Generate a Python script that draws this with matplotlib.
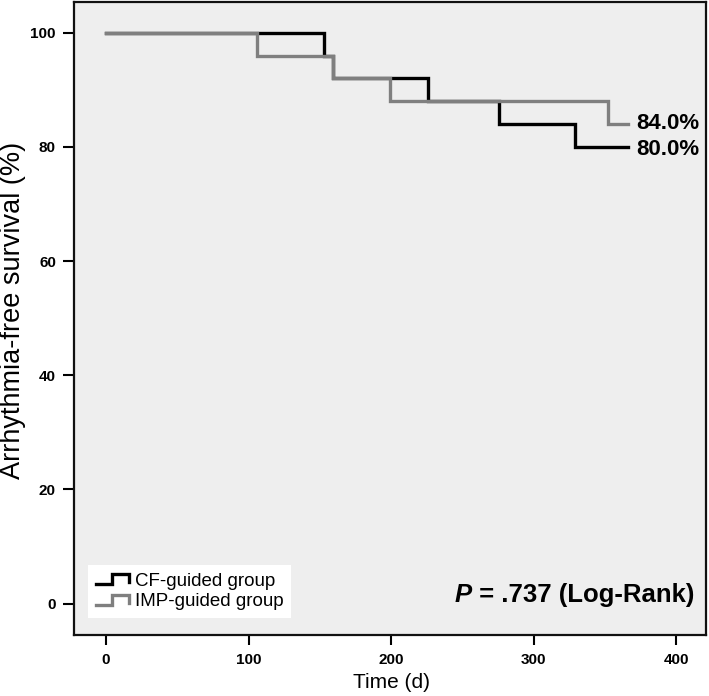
import numpy as np
import matplotlib
matplotlib.use("Agg")
import matplotlib.pyplot as plt
from matplotlib.legend_handler import HandlerBase
from matplotlib.lines import Line2D

# ---- data ----
cf_times = [0, 153, 159, 226, 276, 329, 366]
cf_surv = [100, 96, 92, 88, 84, 80, 80]
imp_times = [0, 106, 159, 199, 352, 366]
imp_surv = [100, 96, 92, 88, 84, 84]
group_labels = ["CF-guided group", "IMP-guided group"]
end_labels = ["80.0%", "84.0%"]
x_ticks = [0, 100, 200, 300, 400]
y_ticks = [0, 20, 40, 60, 80, 100]
p_text = " = .737 (Log-Rank)"

plt.rcParams['font.family'] = ['Liberation Sans', 'DejaVu Sans']

W, H = 709, 696
fig = plt.figure(figsize=(W / 100, H / 100), dpi=100)
fig.patch.set_facecolor('white')
ax = fig.add_axes([74 / W, 1 - 635 / H, (706 - 74) / W, (635 - 2) / H])
ax.set_facecolor('#eeeeee')

black = '#000000'
gray = '#7f7f7f'
lw = 2.4

l_cf, = ax.step(cf_times, cf_surv, where='post', color=black, lw=lw,
                solid_joinstyle='miter', zorder=3)
l_imp, = ax.step(imp_times, imp_surv, where='post', color=gray, lw=lw,
                 solid_joinstyle='miter', zorder=4)

ax.set_xlim(-22.5, 421)
ax.set_ylim(-5.5, 105.4)
ax.set_xticks(x_ticks)
ax.set_yticks(y_ticks)
ax.set_xticklabels([str(v) for v in x_ticks], fontweight='bold', fontsize=11)
ax.set_yticklabels([str(v) for v in y_ticks], fontweight='bold', fontsize=11)
ax.tick_params(axis='y', direction='out', length=8, width=1.5, pad=5)
ax.tick_params(axis='x', direction='out', length=7, width=1.5, pad=6)

for s in ax.spines.values():
    s.set_linewidth(1.6)
    s.set_color('#111111')

# end labels
ax.text(372, 84.2, end_labels[1], fontsize=16, fontweight='bold', va='center', ha='left')
ax.text(372, 79.5, end_labels[0], fontsize=16, fontweight='bold', va='center', ha='left')

# p-value text
t1 = ax.text(0.981, 0.063, p_text, transform=ax.transAxes, fontsize=18.5,
             fontweight='bold', ha='right', va='center')
ax.annotate("P", xy=(0, 0.5), xycoords=t1, ha='right', va='center',
            fontsize=18.5, fontweight='bold', fontstyle='italic')

# labels
ax.set_xlabel("Time (d)", fontsize=15)
ax.xaxis.set_label_coords(0.5016, -0.0758)
ax.xaxis.label.set_va('center')
ax.set_ylabel("Arrhythmia-free survival (%)", fontsize=19.5)
ax.yaxis.set_label_coords(-0.0965, 0.513)
ax.yaxis.label.set_va('center')


class StepHandler(HandlerBase):
    def create_artists(self, legend, orig_handle, xdescent, ydescent,
                       width, height, fontsize, trans):
        xs = np.array([0.0, 0.5, 0.5, 1.0, 1.0]) * width - xdescent
        ys = np.array([0.15, 0.15, 0.85, 0.85, 0.3]) * height - ydescent
        ln = Line2D(xs, ys, color=orig_handle.get_color(), lw=orig_handle.get_linewidth(),
                    solid_joinstyle='miter')
        ln.set_transform(trans)
        return [ln]


leg = ax.legend([l_cf, l_imp], group_labels, loc='lower left',
                bbox_to_anchor=(14 / 632, 17 / 633), borderaxespad=0,
                fontsize=13.5, handlelength=1.8, handletextpad=0.3,
                labelspacing=0.2, borderpad=0.4, fancybox=False,
                frameon=True, handler_map={Line2D: StepHandler()})
leg.get_frame().set_facecolor('white')
leg.get_frame().set_edgecolor('none')
leg.get_frame().set_alpha(1)

fig.savefig("out.png", dpi=100, facecolor='white')
